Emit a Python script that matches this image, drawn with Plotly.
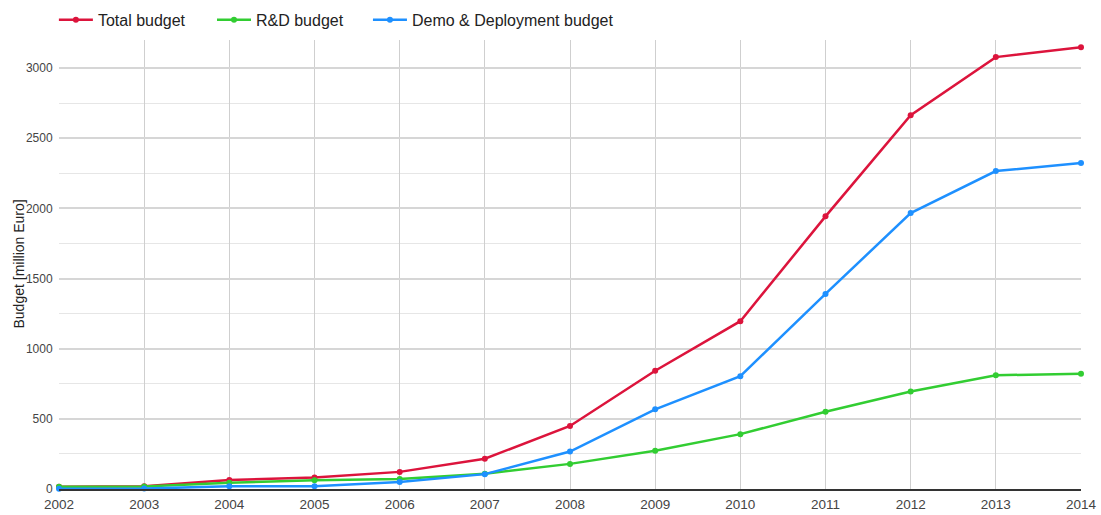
import plotly.graph_objects as go

years = list(range(2002, 2015))
total_budget = [16, 19, 64, 82, 122, 216, 449, 843, 1196, 1943, 2664, 3078, 3148]
rd_budget = [16, 17, 45, 62, 71, 109, 179, 272, 391, 551, 695, 811, 821]
demo_budget = [2, 3, 19, 20, 50, 106, 267, 568, 804, 1390, 1967, 2266, 2323]
y_title = "Budget [million Euro]"

series = [
    ("Total budget", total_budget, "#DC143C", "legend", -0.005),
    ("R&D budget", rd_budget, "#32CD32", "legend2", 0.1497),
    ("Demo & Deployment budget", demo_budget, "#1E90FF", "legend3", 0.3023),
]

fig = go.Figure()
legend_layouts = {}
for name, vals, color, leg, lx in series:
    fig.add_trace(go.Scatter(
        x=years, y=vals, name=name, mode="lines+markers",
        line=dict(color=color, width=2.5),
        marker=dict(color=color, size=6),
        cliponaxis=False, legend=leg,
    ))
    legend_layouts[leg] = dict(
        orientation="h", x=lx, xanchor="left", y=1.007, yanchor="bottom",
        font=dict(size=16, color="#222"), itemwidth=34,
        bgcolor="rgba(0,0,0,0)",
    )

fig.update_layout(
    width=1101, height=515,
    margin=dict(l=59, r=20, t=40, b=26, autoexpand=False),
    paper_bgcolor="white", plot_bgcolor="white",
    font=dict(family="Liberation Sans, Arial, sans-serif", color="#444", size=13),
    showlegend=True,
    xaxis=dict(range=[2002, 2014], dtick=1, tick0=2002, showgrid=True,
               gridcolor="#cfcfcf", gridwidth=1, showline=True, linecolor="#333",
               linewidth=1.5, zeroline=False, ticks="outside", ticklen=2,
               tickcolor="rgba(0,0,0,0)", tickfont=dict(size=13.5, color="#444")),
    yaxis=dict(range=[0, 3200], dtick=500, tick0=0, showgrid=True,
               gridcolor="#d6d6d6", gridwidth=1.5, zeroline=False, ticks="outside",
               ticklen=3, tickcolor="rgba(0,0,0,0)",
               minor=dict(dtick=250, showgrid=True, gridcolor="#e6e6e6", gridwidth=1),
               tickfont=dict(size=12, color="#444")),
    annotations=[dict(text=y_title, xref="paper", yref="paper", x=-0.0401, y=0.5,
                      xanchor="center", yanchor="middle", textangle=-90, showarrow=False,
                      font=dict(size=14, color="#222"))],
    **legend_layouts,
)

fig.write_html("out.html", config={"displayModeBar": False},
               post_script="document.body.style.margin='0';document.body.style.padding='0';")
